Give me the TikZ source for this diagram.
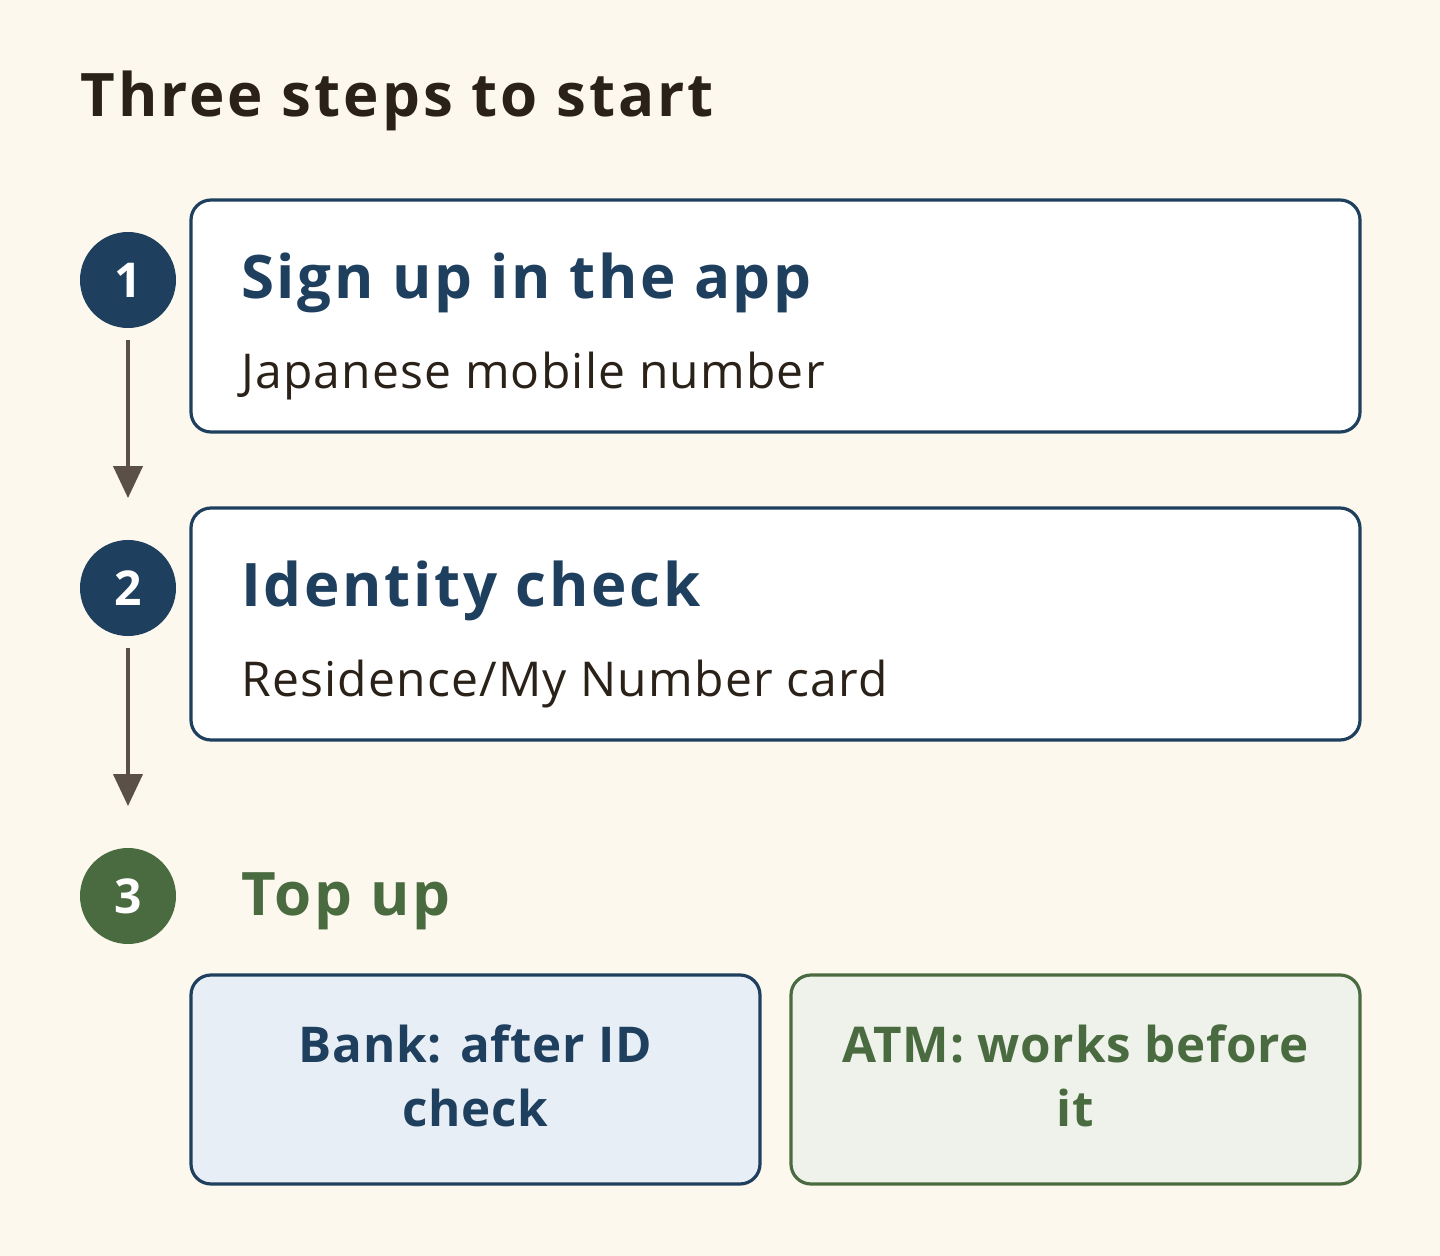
\documentclass[tikz,border=0pt]{standalone}
\usepackage{fontspec}
\setmainfont{Open Sans}
\usetikzlibrary{arrows.meta}
\definecolor{bg}{HTML}{FCF8EE}
\definecolor{navy}{HTML}{1F3F5F}
\definecolor{grn}{HTML}{4A6B40}
\definecolor{ink}{HTML}{2A2118}
\definecolor{arr}{HTML}{5A5048}
\definecolor{bfill}{HTML}{E8EEF5}
\definecolor{gfill}{HTML}{EEF2EA}
\begin{document}
\begin{tikzpicture}[x=0.75pt,y=-0.75pt,
  box/.style={draw=navy,line width=2.4pt,rounded corners=15pt,fill=white},
  num/.style={circle,fill=navy,minimum size=72pt,inner sep=0,text=white,font=\bfseries\fontsize{36}{38}\selectfont},
  head/.style={anchor=base west,inner sep=0,text=navy,font=\bfseries\fontsize{45}{50}\selectfont\addfontfeatures{LetterSpace=4.5}},
  sub/.style={anchor=base west,inner sep=0,text=ink,font=\fontsize{36}{40}\selectfont\addfontfeatures{LetterSpace=2.5}},
  flow/.style={draw=arr,line width=2.4pt,-{Triangle[length=24pt,width=22pt]}},
  opt/.style={align=center,inner sep=0,font=\bfseries\fontsize{37}{48}\selectfont\addfontfeatures{LetterSpace=1.5}}]
\fill[bg] (0,0) rectangle (1440,1256);
\useasboundingbox (0,0) rectangle (1440,1256);
\node[anchor=base west,inner sep=0,text=ink,font=\bfseries\fontsize{45}{50}\selectfont\addfontfeatures{LetterSpace=5}] (title) at (80,117) {Three steps to start};
\draw[box] (191,200) rectangle (1360,432);
\draw[box] (191,508) rectangle (1360,740);
\node[num] (n1) at (128,280) {1};
\node[num] (n2) at (128,588) {2};
\node[num,fill=grn] (n3) at (128,896) {3};
\coordinate (a1) at (128,498);
\coordinate (a2) at (128,806);
\draw[flow] (128,340) -- (a1);
\draw[flow] (128,648) -- (a2);
\node[head] (h1) at (241,298) {Sign up in the app};
\node[sub] (s1) at (241,388) {Japanese mobile number};
\node[head] (h2) at (241,606) {Identity check};
\node[sub] (s2) at (241,696) {Residence/My Number card};
\node[head,text=grn] (h3) at (241,915) {Top up};
\draw[box,fill=bfill] (191,975) rectangle (760,1184);
\draw[box,fill=gfill,draw=grn] (791,975) rectangle (1360,1184);
\node[opt,text=navy] (b) at (475.5,1076) {Bank: after ID\\check};
\node[opt,text=grn] (atm) at (1075.5,1076) {ATM: works before\\it};
\end{tikzpicture}
\end{document}
